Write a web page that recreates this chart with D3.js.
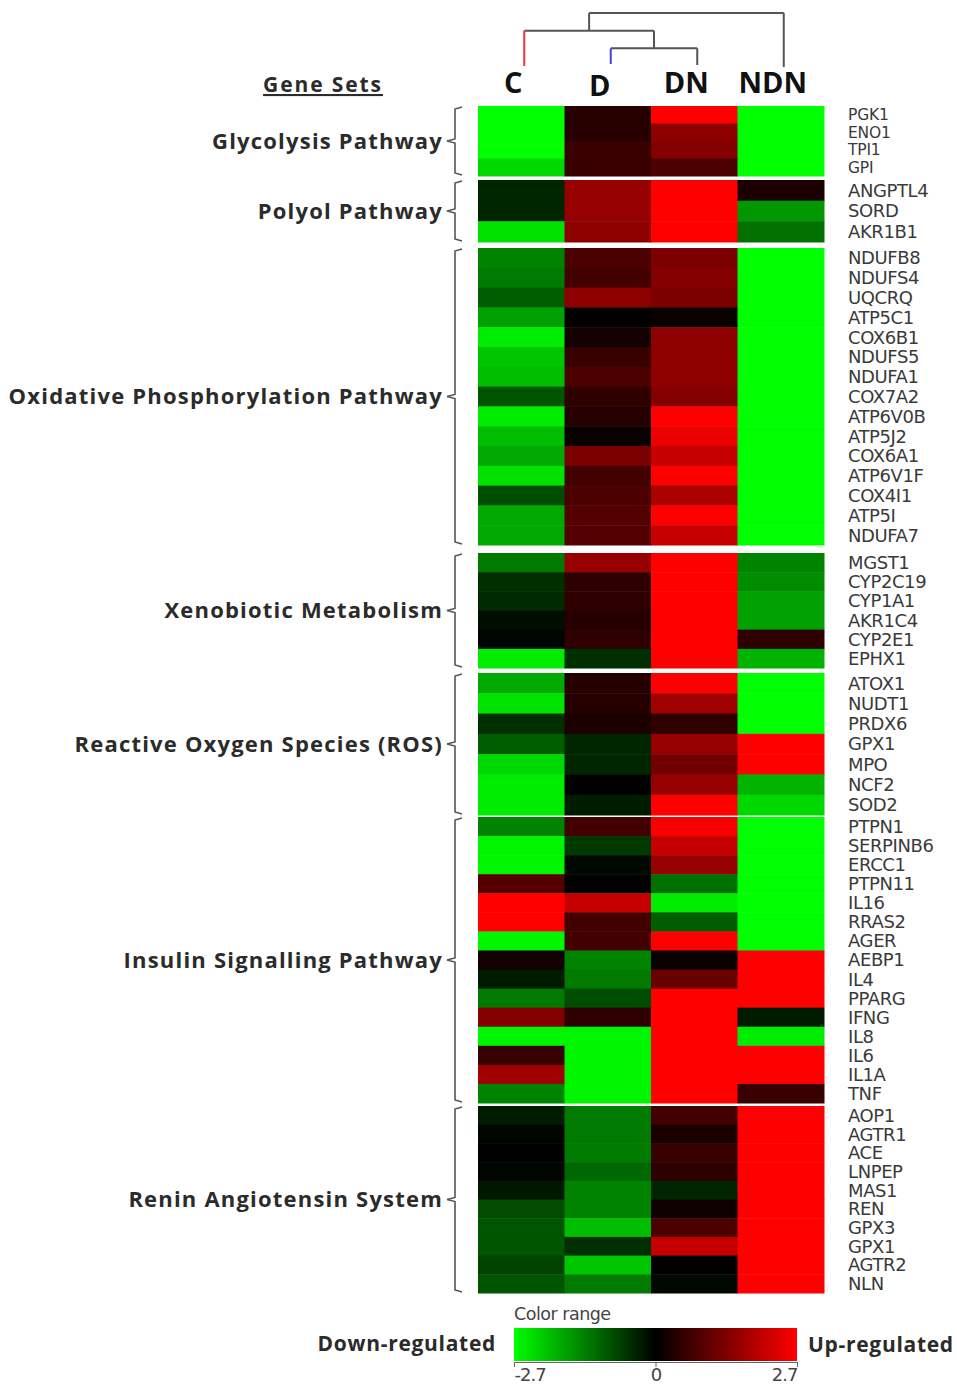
<!DOCTYPE html>
<html>
<head>
<meta charset="utf-8">
<script src="https://cdn.jsdelivr.net/npm/d3@7"></script>
<style>
  html, body { margin: 0; padding: 0; background: #fff; }
  svg { display: block; }
</style>
</head>
<body>
<svg id="chart" width="957" height="1390"></svg>
<script>
// Conditions (heatmap columns)
const conditions = ["C", "D", "DN", "NDN"];

// Gene-set names, in top-to-bottom order
const pathwayNames = [
  "Glycolysis Pathway",
  "Polyol Pathway",
  "Oxidative Phosphorylation Pathway",
  "Xenobiotic Metabolism",
  "Reactive Oxygen Species (ROS)",
  "Insulin Signalling Pathway",
  "Renin Angiotensin System"
];

// Genes of each set
const glycolysisGenes = ["PGK1", "ENO1", "TPI1", "GPI"];
const polyolGenes = ["ANGPTL4", "SORD", "AKR1B1"];
const oxphosGenes = ["NDUFB8", "NDUFS4", "UQCRQ", "ATP5C1", "COX6B1", "NDUFS5", "NDUFA1",
  "COX7A2", "ATP6V0B", "ATP5J2", "COX6A1", "ATP6V1F", "COX4I1", "ATP5I", "NDUFA7"];
const xenobioticGenes = ["MGST1", "CYP2C19", "CYP1A1", "AKR1C4", "CYP2E1", "EPHX1"];
const rosGenes = ["ATOX1", "NUDT1", "PRDX6", "GPX1", "MPO", "NCF2", "SOD2"];
const insulinGenes = ["PTPN1", "SERPINB6", "ERCC1", "PTPN11", "IL16", "RRAS2", "AGER",
  "AEBP1", "IL4", "PPARG", "IFNG", "IL8", "IL6", "IL1A", "TNF"];
const reninGenes = ["AOP1", "AGTR1", "ACE", "LNPEP", "MAS1", "REN", "GPX3", "GPX1", "AGTR2", "NLN"];

// Expression values per gene, columns C, D, DN, NDN (range -2.7 .. 2.7)
const glycolysisValues = [
  [-2.7, 0.4, 2.7, -2.7],
  [-2.7, 0.4, 1.5, -2.7],
  [-2.7, 0.6, 1.4, -2.7],
  [-2.3, 0.6, 0.8, -2.7]
];
const polyolValues = [
  [-0.4, 1.6, 2.7, 0.3],
  [-0.4, 1.6, 2.7, -1.6],
  [-2.4, 1.5, 2.7, -1.2]
];
const oxphosValues = [
  [-1.4, 0.8, 1.3, -2.7],
  [-1.3, 0.7, 1.4, -2.7],
  [-1.0, 1.5, 1.3, -2.7],
  [-1.7, 0.05, 0.1, -2.7],
  [-2.5, 0.2, 1.5, -2.7],
  [-2.1, 0.6, 1.5, -2.7],
  [-2.0, 0.8, 1.5, -2.7],
  [-0.9, 0.5, 1.4, -2.7],
  [-2.5, 0.4, 2.7, -2.7],
  [-2.0, 0.1, 2.5, -2.7],
  [-1.8, 1.3, 2.1, -2.7],
  [-2.4, 0.7, 2.7, -2.7],
  [-0.8, 0.8, 1.8, -2.7],
  [-1.8, 0.9, 2.7, -2.7],
  [-1.8, 0.9, 2.1, -2.7]
];
const xenobioticValues = [
  [-1.3, 1.6, 2.7, -1.4],
  [-0.5, 0.5, 2.7, -1.5],
  [-0.45, 0.5, 2.7, -1.7],
  [-0.15, 0.4, 2.7, -1.7],
  [-0.05, 0.5, 2.7, 0.5],
  [-2.5, -0.5, 2.7, -1.9]
];
const rosValues = [
  [-1.8, 0.4, 2.7, -2.7],
  [-2.4, 0.4, 1.7, -2.7],
  [-0.5, 0.3, 0.5, -2.7],
  [-1.0, -0.4, 1.6, 2.7],
  [-2.3, -0.4, 1.2, 2.7],
  [-2.5, 0.0, 1.6, -1.9],
  [-2.5, -0.3, 2.7, -2.3]
];
const insulinValues = [
  [-1.4, 0.7, 2.6, -2.7],
  [-2.6, -0.6, 2.1, -2.7],
  [-2.6, -0.1, 1.6, -2.7],
  [0.9, 0.0, -1.2, -2.7],
  [2.7, 2.1, -2.5, -2.7],
  [2.7, 0.7, -1.0, -2.7],
  [-2.6, 0.7, 2.7, -2.7],
  [0.2, -1.4, 0.1, 2.7],
  [-0.3, -1.3, 1.1, 2.7],
  [-1.3, -0.8, 2.7, 2.7],
  [1.4, 0.5, 2.7, -0.3],
  [-2.6, -2.6, 2.7, -2.5],
  [0.6, -2.6, 2.7, 2.7],
  [1.7, -2.6, 2.7, 2.7],
  [-1.4, -2.6, 2.7, 0.6]
];
const reninValues = [
  [-0.3, -1.3, 0.7, 2.7],
  [-0.05, -1.3, 0.3, 2.7],
  [0.0, -1.3, 0.6, 2.7],
  [-0.05, -1.1, 0.5, 2.7],
  [-0.25, -1.4, -0.4, 2.7],
  [-0.8, -1.4, 0.15, 2.7],
  [-0.9, -2.0, 0.8, 2.7],
  [-0.9, -0.5, 2.1, 2.7],
  [-0.7, -2.1, 0.05, 2.7],
  [-0.9, -1.3, -0.1, 2.7]
];

// Colour-bar ticks
const legendTicks = [-2.7, 0, 2.7];

// Column clustering: [left, right, merge level] (level 0 = leaves)
const clusterMerges = [
  { id: "D|DN", left: "D", right: "DN", level: 1 },
  { id: "C|D|DN", left: "C", right: "D|DN", level: 2 },
  { id: "root", left: "C|D|DN", right: "NDN", level: 3 }
];

// ---------------------------------------------------------------------------

const geneLists = [glycolysisGenes, polyolGenes, oxphosGenes, xenobioticGenes, rosGenes, insulinGenes, reninGenes];
const valueLists = [glycolysisValues, polyolValues, oxphosValues, xenobioticValues, rosValues, insulinValues, reninValues];

// vertical extent of each gene-set block
const blockExtents = [[106, 176], [180, 242], [248, 545], [553, 668], [673, 815], [817, 1103], [1106, 1293]];

const svg = d3.select("#chart");
const textColor = "#2b2b2b";

const x = d3.scaleBand().domain(conditions).range([478, 824]).padding(0);

const color = d3.scaleLinear()
  .domain([-2.7, 0, 2.7])
  .range(["#00ff00", "#000000", "#ff0000"])
  .clamp(true);

const heat = svg.append("g");
const geneLabels = svg.append("g");
const brackets = svg.append("g");

pathwayNames.forEach((name, i) => {
  const genes = geneLists[i];
  const vals = valueLists[i];
  const [y0, y1] = blockExtents[i];
  const y = d3.scaleBand().domain(genes).range([y0, y1]).padding(0);

  const cells = [];
  genes.forEach((g, r) => conditions.forEach((c, k) => cells.push({ gene: g, cond: c, v: vals[r][k] })));

  heat.selectAll(null)
    .data(cells)
    .join("rect")
    .attr("x", d => x(d.cond))
    .attr("y", d => y(d.gene))
    .attr("width", x.bandwidth() + 0.5)
    .attr("height", y.bandwidth() + 0.5)
    .attr("fill", d => color(d.v));

  const small = i === 0;
  geneLabels.selectAll(null)
    .data(genes)
    .join("text")
    .attr("x", 848)
    .attr("y", d => y(d) + y.bandwidth() / 2)
    .attr("dy", "0.36em")
    .attr("font-family", "DejaVu Sans")
    .attr("font-size", small ? 15.5 : 18)
    .attr("letter-spacing", small ? -0.2 : -0.4)
    .attr("fill", "#3a3a3a")
    .text(d => d);

  // curly bracket beside the block
  const bx = 455, mid = (y0 + y1) / 2;
  brackets.append("path")
    .attr("d", `M${bx + 7},${y0 + 1} L${bx},${y0 + 3} L${bx},${mid - 2} L${bx - 8},${mid} L${bx},${mid + 2} L${bx},${y1 - 3} L${bx + 7},${y1 - 1}`)
    .attr("fill", "none")
    .attr("stroke", "#555")
    .attr("stroke-width", 1.6);

  brackets.append("text")
    .attr("x", 443)
    .attr("y", mid)
    .attr("dy", "0.35em")
    .attr("text-anchor", "end")
    .attr("font-family", "Open Sans")
    .attr("font-weight", 700)
    .attr("font-size", 22)
    .attr("letter-spacing", 1.2)
    .attr("fill", textColor)
    .text(name);
});

// Column headers
svg.append("g").selectAll("text")
  .data(conditions)
  .join("text")
  .attr("x", d => x(d) + x.bandwidth() / 2 - 8)
  .attr("y", d => d === "D" ? 96 : 93)
  .attr("text-anchor", "middle")
  .attr("font-family", "Open Sans")
  .attr("font-weight", 700)
  .attr("font-size", 29)
  .attr("fill", "#111")
  .text(d => d);

// "Gene Sets" heading
svg.append("text")
  .attr("x", 323)
  .attr("y", 92)
  .attr("text-anchor", "middle")
  .attr("font-family", "Open Sans")
  .attr("font-weight", 700)
  .attr("font-size", 21)
  .attr("letter-spacing", 1.9)
  .attr("text-decoration", "underline")
  .attr("fill", textColor)
  .text("Gene Sets");

// Dendrogram over the columns
const levelY = d3.scaleLinear().domain([0, 3]).range([66, 13]);
const leafX = c => x(c) + x.bandwidth() / 2 + 3;
const nodes = {};
conditions.forEach(c => { nodes[c] = { x: leafX(c), level: 0, leafEnd: levelY(0) }; });
nodes["D"].leafEnd = 64; nodes["DN"].leafEnd = 65; nodes["NDN"].leafEnd = 67;
const leafColor = { C: "#ee3344", D: "#4444cc" };
const dendro = svg.append("g").attr("fill", "none").attr("stroke-width", 2);
clusterMerges.forEach(m => {
  const a = nodes[m.left], b = nodes[m.right];
  const yy = levelY(m.level);
  nodes[m.id] = { x: (a.x + b.x) / 2, level: m.level };
  dendro.append("path")
    .attr("d", `M${a.x},${yy} L${b.x},${yy}`)
    .attr("stroke", "#555");
  [[m.left, a], [m.right, b]].forEach(([key, n]) => {
    const yEnd = n.level === 0 ? n.leafEnd : levelY(n.level);
    dendro.append("path")
      .attr("d", `M${n.x},${yy} L${n.x},${yEnd}`)
      .attr("stroke", leafColor[key] || "#555");
  });
});

// Colour legend
const lx = d3.scaleLinear().domain([-2.7, 2.7]).range([514, 797]);
const defs = svg.append("defs");
const grad = defs.append("linearGradient").attr("id", "rangeGrad");
grad.selectAll("stop")
  .data(d3.range(0, 1.0001, 0.1))
  .join("stop")
  .attr("offset", d => d)
  .attr("stop-color", d => color(-2.7 + d * 5.4));

svg.append("rect")
  .attr("x", lx(-2.7)).attr("y", 1328)
  .attr("width", lx(2.7) - lx(-2.7)).attr("height", 33)
  .attr("fill", "url(#rangeGrad)");

svg.append("text")
  .attr("x", 514).attr("y", 1320)
  .attr("font-family", "DejaVu Sans")
  .attr("font-size", 17.5)
  .attr("letter-spacing", -0.5)
  .attr("fill", "#444")
  .text("Color range");

svg.append("text")
  .attr("x", 496).attr("y", 1351)
  .attr("text-anchor", "end")
  .attr("font-family", "Open Sans")
  .attr("font-weight", 700)
  .attr("font-size", 21)
  .attr("letter-spacing", 0.7)
  .attr("fill", textColor)
  .text("Down-regulated");

svg.append("text")
  .attr("x", 808).attr("y", 1352)
  .attr("font-family", "Open Sans")
  .attr("font-weight", 700)
  .attr("font-size", 21)
  .attr("letter-spacing", 0.7)
  .attr("fill", textColor)
  .text("Up-regulated");

const axis = svg.append("g")
  .attr("transform", "translate(0,1362)")
  .call(d3.axisBottom(lx).tickValues(legendTicks).tickSize(5).tickSizeOuter(5).tickPadding(1).tickFormat(d3.format("")));
axis.select(".domain").attr("stroke", "#666");
axis.selectAll(".tick line").attr("stroke", "#666");
axis.selectAll(".tick text")
  .attr("font-family", "DejaVu Sans")
  .attr("font-size", 18)
  .attr("letter-spacing", -1)
  .attr("fill", "#444")
  .attr("dy", "0.72em")
  .attr("text-anchor", (d, i) => i === 0 ? "start" : i === legendTicks.length - 1 ? "end" : "middle")
  .text(d => d === -2.7 ? "-2.7" : d);
</script>
</body>
</html>
